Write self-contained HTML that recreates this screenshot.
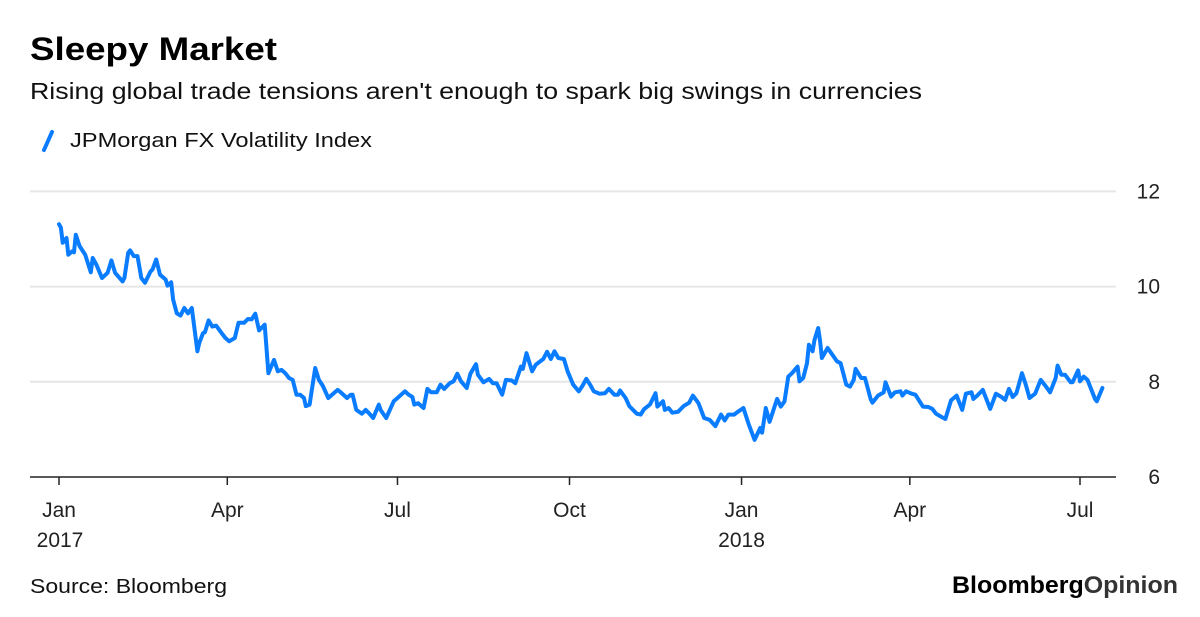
<!DOCTYPE html>
<html><head><meta charset="utf-8"><style>
body{margin:0;background:#fff;width:1200px;height:612px;overflow:hidden;font-family:"Liberation Sans",sans-serif;color:#111}
svg text{font-family:"Liberation Sans",sans-serif}
</style></head><body>
<svg id="chart" width="1200" height="612" viewBox="0 0 1200 612">
<text x="30" y="60" font-size="32" font-weight="bold" fill="#000" textLength="247" lengthAdjust="spacingAndGlyphs">Sleepy Market</text>
<text x="30" y="99" font-size="23" fill="#111" textLength="892" lengthAdjust="spacingAndGlyphs">Rising global trade tensions aren't enough to spark big swings in currencies</text>
<g>
<line x1="44" y1="150" x2="52" y2="132" stroke="#0a7cff" stroke-width="4" stroke-linecap="round"/>
<text x="70" y="147" font-size="20" fill="#111" textLength="302" lengthAdjust="spacingAndGlyphs">JPMorgan FX Volatility Index</text>
</g>
<g id="grid"></g><g id="axes"></g><g id="series"></g>
<text x="30" y="593" font-size="20" fill="#111" textLength="197" lengthAdjust="spacingAndGlyphs">Source: Bloomberg</text>
<text x="952" y="593" font-size="24" font-weight="bold" fill="#000" textLength="226" lengthAdjust="spacingAndGlyphs">Bloomberg<tspan fill="#333">Opinion</tspan></text>
</svg>
<script>
const days=[0,1,2,4,5,7,8,9,11,14,17,18,20,23,26,28,30,34,35,37,38,40,42,44,46,49,50,52,54,57,58,60,61,63,65,67,69,71,74,75,77,78,80,82,84,87,89,91,94,96,99,101,103,105,107,110,112,115,117,119,121,123,125,127,129,131,132,134,137,139,141,144,149,150,154,156,157,159,162,164,166,168,171,172,175,179,181,185,187,189,190,192,195,197,199,202,204,206,209,211,213,215,218,220,223,224,227,230,232,234,237,239,242,244,247,248,250,253,255,259,261,263,265,267,270,272,275,278,280,282,284,286,289,292,294,297,299,300,303,305,309,311,313,316,319,320,323,324,326,328,331,334,337,339,342,345,348,351,354,356,358,361,363,366,369,372,375,376,378,380,384,386,388,390,392,395,396,398,400,401,403,404,406,407,408,411,413,416,418,421,423,425,426,429,431,434,435,438,441,442,445,447,450,451,453,456,458,462,465,467,469,472,474,477,480,483,485,488,489,491,494,498,501,504,506,508,510,512,515,517,519,522,525,526,528,530,533,534,536,538,541,542,545,546,548,550,554,555,558];
const values=[11.31,11.24,10.92,11.02,10.67,10.74,10.72,11.09,10.85,10.67,10.30,10.60,10.46,10.18,10.29,10.55,10.29,10.11,10.18,10.71,10.76,10.64,10.64,10.18,10.08,10.32,10.36,10.57,10.25,10.15,10.02,10.09,9.73,9.44,9.39,9.55,9.44,9.55,8.64,8.81,9.02,9.04,9.29,9.16,9.18,9.02,8.92,8.85,8.92,9.24,9.24,9.32,9.31,9.43,9.08,9.20,8.18,8.46,8.22,8.25,8.18,8.08,8.04,7.73,7.73,7.66,7.49,7.52,8.29,8.04,7.92,7.66,7.83,7.80,7.66,7.73,7.73,7.41,7.33,7.41,7.33,7.24,7.52,7.41,7.24,7.59,7.66,7.80,7.73,7.68,7.52,7.55,7.45,7.85,7.78,7.78,7.94,7.85,7.97,8.01,8.17,8.01,7.87,8.17,8.37,8.15,7.99,8.06,7.97,7.97,7.73,8.04,8.03,7.97,8.32,8.27,8.60,8.22,8.36,8.48,8.63,8.48,8.64,8.50,8.48,8.22,7.94,7.80,7.92,8.06,7.94,7.80,7.75,7.76,7.85,7.73,7.73,7.82,7.66,7.49,7.33,7.31,7.43,7.52,7.76,7.48,7.59,7.41,7.45,7.35,7.37,7.49,7.56,7.71,7.55,7.24,7.20,7.07,7.31,7.19,7.31,7.31,7.37,7.45,7.09,6.78,7.03,6.93,7.45,7.16,7.64,7.48,7.59,8.11,8.18,8.32,8.01,8.08,8.39,8.78,8.64,8.88,9.13,8.85,8.50,8.71,8.60,8.43,8.39,7.94,7.90,8.04,8.27,8.08,8.08,7.64,7.56,7.71,7.78,7.99,7.69,7.78,7.80,7.71,7.80,7.75,7.73,7.48,7.47,7.43,7.33,7.26,7.22,7.61,7.71,7.41,7.75,7.78,7.64,7.71,7.83,7.43,7.75,7.68,7.62,7.85,7.68,7.76,8.18,7.94,7.66,7.75,8.04,7.99,7.89,7.78,8.08,8.34,8.15,8.15,7.99,7.99,8.24,8.01,8.11,8.04,7.64,7.59,7.87];
const yTicks=[6,8,10,12];
const xTickDays=[0,90,181,273,365,455,546];
const xTickMonths=["Jan","Apr","Jul","Oct","Jan","Apr","Jul"];
const xTickYears=["2017","","","","2018","",""];

const NS="http://www.w3.org/2000/svg";
const X=d=>59+d*1021/546;
const Y=v=>477-(v-6)*47.6;
function mk(tag,attrs,parent,txt){const e=document.createElementNS(NS,tag);for(const k in attrs)e.setAttribute(k,attrs[k]);if(txt!==undefined)e.textContent=txt;parent.appendChild(e);return e;}
const grid=document.getElementById('grid'),axes=document.getElementById('axes'),series=document.getElementById('series');
yTicks.forEach(t=>{
  if(t!==6){const l=mk('line',{x1:30,x2:1116,y1:Y(t),y2:Y(t),stroke:'#e6e6e6','stroke-width':2},grid);
  
  }
  const tx=mk('text',{x:1160,y:Y(t)+7,'font-size':21,'text-anchor':'end',fill:'#222'},axes,String(t));
  
  
});
const ax=mk('line',{x1:30,x2:1116,y1:477,y2:477,stroke:'#222','stroke-width':1.5},axes);


xTickDays.forEach((d,i)=>{
  const tk=mk('line',{x1:X(d),x2:X(d),y1:477,y2:485,stroke:'#222','stroke-width':1.5},axes);
  
  
  const m=mk('text',{x:X(d),y:517,'font-size':21,'text-anchor':'middle',fill:'#222'},axes,xTickMonths[i]);
  
  
  if(xTickYears[i]){const yr=mk('text',{x:X(d)-(i===0?-1:0),y:547,'font-size':21,'text-anchor':'middle',fill:'#222'},axes,xTickYears[i]);
  
  }
});
const pts=days.map((d,i)=>X(d).toFixed(1)+','+Y(values[i]).toFixed(1)).join(' ');
const pl=mk('polyline',{points:pts,fill:'none',stroke:'#0a7cff','stroke-width':4,'stroke-linejoin':'round','stroke-linecap':'round'},series);


</script>
</body></html>
